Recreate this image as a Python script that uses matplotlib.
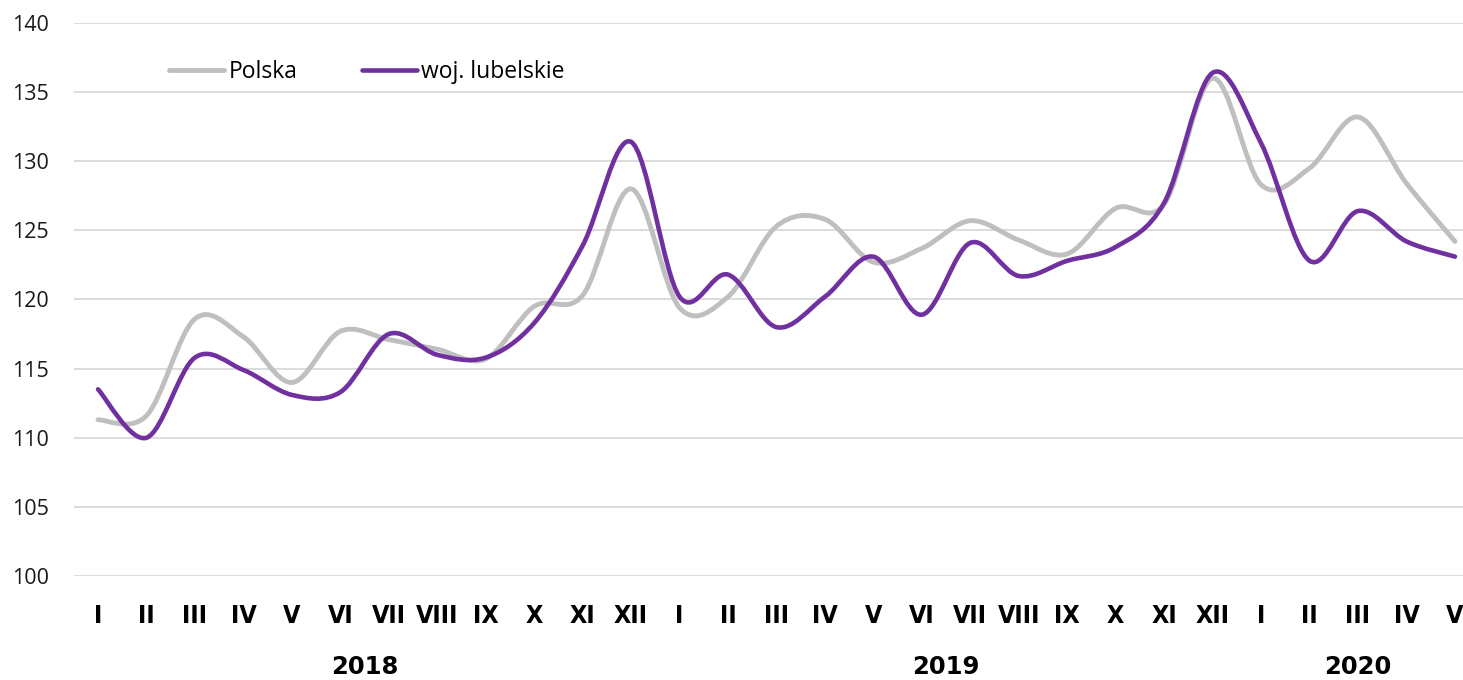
import numpy as np
import matplotlib
matplotlib.use("Agg")
import matplotlib.pyplot as plt
from matplotlib.path import Path
from matplotlib.patches import PathPatch
from matplotlib.lines import Line2D

# months Jan 2018 - May 2020
months = ['I', 'II', 'III', 'IV', 'V', 'VI', 'VII', 'VIII', 'IX', 'X', 'XI', 'XII',
          'I', 'II', 'III', 'IV', 'V', 'VI', 'VII', 'VIII', 'IX', 'X', 'XI', 'XII',
          'I', 'II', 'III', 'IV', 'V']
years = ['2018', '2019', '2020']
year_pos = [5.5, 17.5, 26]

polska = [111.3, 111.6, 118.6, 117.3, 114.0, 117.7, 117.1, 116.4, 115.7, 119.5, 120.3, 128.0,
          119.4, 120.2, 125.3, 125.8, 122.7, 123.7, 125.7,
          124.3, 123.3, 126.6, 126.9, 136.0, 128.3, 129.5, 133.2, 128.4, 124.2]
lubelskie = [113.5, 110.0, 115.8, 114.9, 113.1, 113.3, 117.5, 116.0, 115.8, 118.3, 123.9, 131.4,
             120.2, 121.8, 118.0, 120.2, 123.1, 118.9, 124.1,
             121.7, 122.8, 123.8, 127.0, 136.4, 131.3, 122.8, 126.4, 124.2, 123.1]

GRAY = '#BFBFBF'
PURPLE = '#7030A0'


def smooth_path(xs, ys):
    # Excel-like smoothed line: cubic bezier segments through the data points
    p = np.column_stack([xs, ys]).astype(float)
    n = len(p)
    verts = [p[0]]
    codes = [Path.MOVETO]
    for i in range(n - 1):
        p0 = p[i - 1] if i > 0 else p[i]
        p3 = p[i + 2] if i + 2 < n else p[i + 1]
        c1 = p[i] + (p[i + 1] - p0) / 6
        c2 = p[i + 1] - (p3 - p[i]) / 6
        verts += [c1, c2, p[i + 1]]
        codes += [Path.CURVE4] * 3
    return Path(verts, codes)


fig = plt.figure(figsize=(14.63, 6.8), dpi=100)
ax = fig.add_axes([73.8 / 1463, 1 - 576 / 680, 1405.4 / 1463, 553 / 680])

x = np.arange(len(months))
for vals, col, lw in [(polska, GRAY, 3.5), (lubelskie, PURPLE, 3.3)]:
    ax.add_patch(PathPatch(smooth_path(x, vals), fill=False, edgecolor=col,
                           linewidth=lw, capstyle='round', joinstyle='round'))

ax.set_xlim(-0.5, 28.5)
ax.set_ylim(100, 140)
ax.set_yticks(range(100, 141, 5))
ax.grid(axis='y', color='#D9D9D9', linewidth=1.3)
ax.set_axisbelow(True)
for s in ax.spines.values():
    s.set_visible(False)
ax.tick_params(axis='both', length=0)
ax.tick_params(axis='y', pad=18, labelsize=15.5, labelcolor='#1a1a1a')
ax.set_yticklabels([str(v) for v in range(100, 141, 5)], family='Open Sans')

ax.set_xticks(x)
ax.set_xticklabels(months, fontweight='bold', fontsize=18, family='DejaVu Sans',
                   fontstretch='condensed')
ax.tick_params(axis='x', pad=20)

for yr, pos in zip(years, year_pos):
    ax.text(pos, -0.165, yr, transform=ax.get_xaxis_transform(), ha='center', va='center',
            fontsize=17.5, fontweight='bold', family='DejaVu Sans')

handles = [Line2D([], [], color=GRAY, lw=3.5, solid_capstyle='round'),
           Line2D([], [], color=PURPLE, lw=3.3, solid_capstyle='round')]
ax.legend(handles, ['Polska', 'woj. lubelskie'], loc='upper left', ncol=2,
          bbox_to_anchor=((160 - 73.8) / 1405.4, 1 - 28 / 553), frameon=False,
          prop={'family': 'Open Sans', 'size': 16.5}, handlelength=2.4, handletextpad=0.2,
          columnspacing=2.8, borderaxespad=0)

fig.savefig('out.png', dpi=100)
